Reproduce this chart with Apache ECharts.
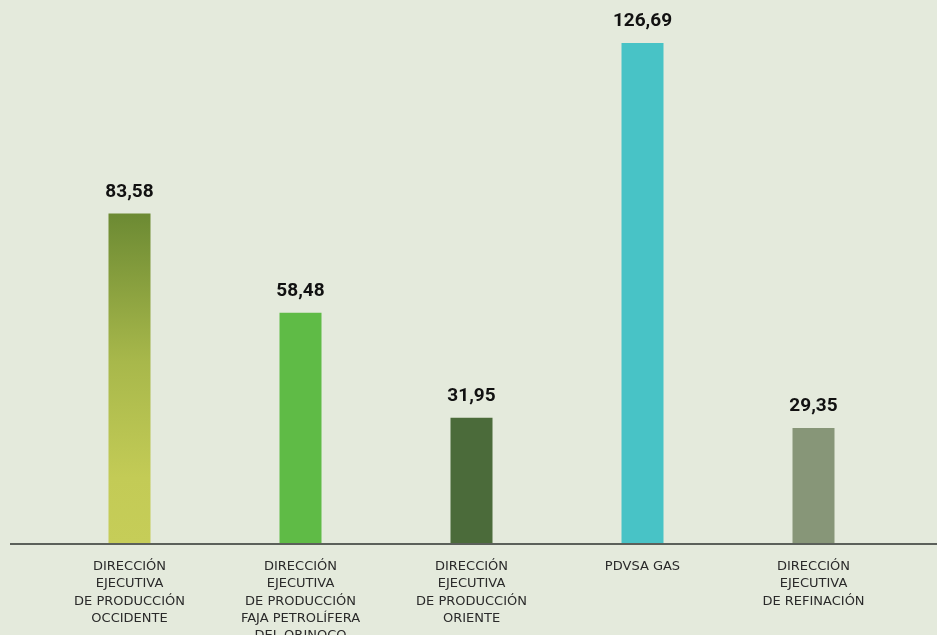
<!DOCTYPE html>
<html>
<head>
<meta charset="utf-8">
<style>
  html, body { margin: 0; padding: 0; background: #e4eadc; }
  #chart { width: 937px; height: 635px; }
</style>
<script src="https://cdn.jsdelivr.net/npm/echarts@6/dist/echarts.min.js"></script>
</head>
<body>
<div id="chart"></div>
<script>
// categorías (etiquetas del eje x)
var categorias = [
    'DIRECCIÓN\nEJECUTIVA\nDE PRODUCCIÓN\nOCCIDENTE',
    'DIRECCIÓN\nEJECUTIVA\nDE PRODUCCIÓN\nFAJA PETROLÍFERA\nDEL ORINOCO',
    'DIRECCIÓN\nEJECUTIVA\nDE PRODUCCIÓN\nORIENTE',
    'PDVSA GAS',
    'DIRECCIÓN\nEJECUTIVA\nDE REFINACIÓN'
];
// valores
var valores = [83.58, 58.48, 31.95, 126.69, 29.35];

var colores = [
    new echarts.graphic.LinearGradient(0, 0, 0, 1, [
        { offset: 0, color: '#6c8a33' },
        { offset: 0.45, color: '#a8b84b' },
        { offset: 0.8, color: '#c3cb56' },
        { offset: 1, color: '#c6cd58' }
    ]),
    '#5fbb46',
    '#4b6b3a',
    '#48c3c6',
    '#879678'
];

var myChart = echarts.init(document.getElementById('chart'));

var option = {
    backgroundColor: '#e4eadc',
    animation: false,
    grid: {
        left: 44,
        right: 38,
        top: 30,
        bottom: 91,
        outerBoundsMode: 'none',
        containLabel: false
    },
    xAxis: {
        type: 'category',
        data: categorias,
        axisLine: { show: false },
        axisTick: { show: false },
        axisLabel: {
            interval: 0,
            margin: 14,
            color: '#2a2a2a',
            fontFamily: 'DejaVu Sans',
            fontSize: 13,
            lineHeight: 17.3,
            align: 'center'
        }
    },
    yAxis: {
        type: 'value',
        min: 0,
        max: 130,
        show: false,
        splitLine: { show: false }
    },
    series: [{
        type: 'bar',
        barWidth: 42,
        data: valores.map(function (v, i) {
            return { value: v, itemStyle: { color: colores[i] } };
        }),
        label: {
            show: true,
            position: 'top',
            distance: 12,
            color: '#111111',
            fontFamily: 'Roboto',
            fontWeight: 'bold',
            fontSize: 19,
            formatter: function (p) {
                return p.value.toFixed(2).replace('.', ',');
            }
        }
    }],
    // línea base del eje, más ancha que la rejilla
    graphic: [{
        type: 'line',
        shape: { x1: 10, y1: 544, x2: 937, y2: 544 },
        style: { stroke: '#5b605a', lineWidth: 2 },
        z: 10
    }]
};

myChart.setOption(option);
</script>
</body>
</html>
